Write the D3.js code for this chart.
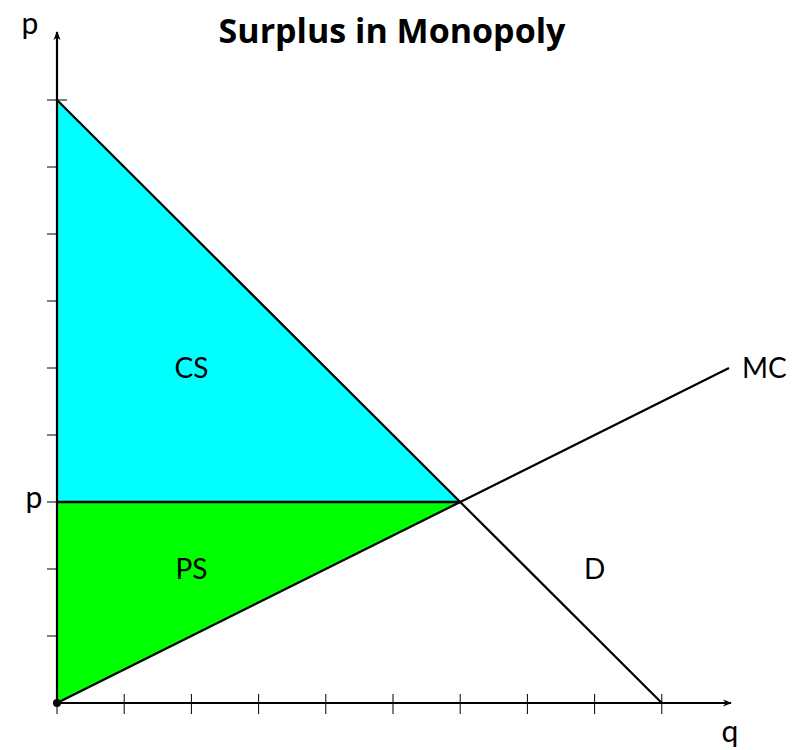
<!DOCTYPE html>
<html>
<head>
<meta charset="utf-8">
<script src="https://cdn.jsdelivr.net/npm/d3@7"></script>
<style>
  body { margin: 0; background: #fff; }
  text { font-family: Lato, "Open Sans", sans-serif; fill: #000; }
</style>
</head>
<body>
<div class="svg-container"></div>
<script>
// Data (in chart units)
var demand = [[0, 9], [9, 0]];
var marginalCost = [[0, 0], [10, 5]];
var equilibrium = [6, 3];
var xTicks = [0, 1, 2, 3, 4, 5, 6, 7, 8, 9];
var yTicks = [1, 2, 3, 4, 5, 6, 7, 8, 9];
var areaLabels = [
  { name: 'CS', x: 2, y: 5 },
  { name: 'PS', x: 2, y: 2 },
  { name: 'D', x: 8, y: 2 }
];

var width = 794;
var height = 750;

var svg = d3.select('.svg-container')
  .append('svg')
  .attr('width', width)
  .attr('height', height);

// Scales
var xScale = d3.scaleLinear().domain([0, 10]).range([57, 729]);
var yScale = d3.scaleLinear().domain([0, 9]).range([703, 100]);

var line = d3.line()
  .x(function(d) { return xScale(d[0]); })
  .y(function(d) { return yScale(d[1]); });

// Arrow marker
svg.append('defs').append('marker')
  .attr('id', 'arrow')
  .attr('viewBox', '0 0 10 10')
  .attr('refX', 9).attr('refY', 5)
  .attr('markerWidth', 9).attr('markerHeight', 9)
  .attr('markerUnits', 'userSpaceOnUse')
  .attr('orient', 'auto')
  .append('path')
  .attr('d', 'M0,1 L10,5 L0,9 L3,5 Z')
  .attr('fill', '#000');

// Ticks
svg.selectAll('line.xtick')
  .data(xTicks)
  .enter()
  .append('line')
  .attr('class', 'xtick')
  .attr('x1', function(d) { return xScale(d); })
  .attr('x2', function(d) { return xScale(d); })
  .attr('y1', yScale(0) - 9)
  .attr('y2', yScale(0) + 11)
  .attr('stroke', '#000')
  .attr('stroke-width', 1);

svg.selectAll('line.ytick')
  .data(yTicks)
  .enter()
  .append('line')
  .attr('class', 'ytick')
  .attr('x1', xScale(0) - 10)
  .attr('x2', xScale(0) + 10)
  .attr('y1', function(d) { return yScale(d); })
  .attr('y2', function(d) { return yScale(d); })
  .attr('stroke', '#000')
  .attr('stroke-width', 1);

// Surplus areas
var cs = [[0, demand[0][1]], equilibrium, [0, equilibrium[1]]];
var ps = [[0, 0], equilibrium, [0, equilibrium[1]]];

svg.append('path')
  .attr('d', line(cs) + 'Z')
  .attr('fill', '#00ffff')
  .attr('stroke', 'none');

svg.append('path')
  .attr('d', line(ps) + 'Z')
  .attr('fill', '#00ff00')
  .attr('stroke', 'none');

// Price line
svg.append('path')
  .attr('d', line([[0, equilibrium[1]], equilibrium]))
  .attr('stroke', '#000')
  .attr('stroke-width', 2.4)
  .attr('fill', 'none');

// Axes
svg.append('line')
  .attr('x1', xScale(0)).attr('y1', yScale(0))
  .attr('x2', 731).attr('y2', yScale(0))
  .attr('stroke', '#000').attr('stroke-width', 2.2)
  .attr('marker-end', 'url(#arrow)');

svg.append('line')
  .attr('x1', xScale(0)).attr('y1', yScale(0))
  .attr('x2', xScale(0)).attr('y2', 32)
  .attr('stroke', '#000').attr('stroke-width', 2.2)
  .attr('marker-end', 'url(#arrow)');

// Curves
svg.append('path')
  .attr('d', line(demand))
  .attr('stroke', '#000')
  .attr('stroke-width', 2.2)
  .attr('fill', 'none');

svg.append('path')
  .attr('d', line(marginalCost))
  .attr('stroke', '#000')
  .attr('stroke-width', 2.2)
  .attr('fill', 'none');

// Origin dot
svg.append('circle')
  .attr('cx', xScale(0))
  .attr('cy', yScale(0))
  .attr('r', 4)
  .attr('fill', '#000');

// Area labels
svg.selectAll('text.area')
  .data(areaLabels)
  .enter()
  .append('text')
  .attr('class', 'area')
  .attr('x', function(d) { return xScale(d.x); })
  .attr('y', function(d) { return yScale(d.y); })
  .attr('dy', '0.35em')
  .attr('text-anchor', 'middle')
  .style('font-size', '28px')
  .text(function(d) { return d.name; });

svg.append('text')
  .attr('x', xScale(marginalCost[1][0]) + 13)
  .attr('y', yScale(marginalCost[1][1]))
  .attr('dy', '0.35em')
  .style('font-size', '28px')
  .text('MC');

// Axis labels
svg.append('text')
  .attr('x', 30).attr('y', 34)
  .attr('text-anchor', 'middle')
  .style('font-size', '30px')
  .text('p');

svg.append('text')
  .attr('x', 34).attr('y', yScale(equilibrium[1]))
  .attr('dy', '0.2em')
  .attr('text-anchor', 'middle')
  .style('font-size', '30px')
  .text('p');

svg.append('text')
  .attr('x', 730).attr('y', 742)
  .attr('text-anchor', 'middle')
  .style('font-size', '30px')
  .text('q');

// Title
svg.append('text')
  .attr('x', 392).attr('y', 43)
  .attr('text-anchor', 'middle')
  .style('font-family', '"Open Sans", sans-serif')
  .style('font-weight', 'bold')
  .style('font-size', '34px')
  .text('Surplus in Monopoly');
</script>
</body>
</html>
